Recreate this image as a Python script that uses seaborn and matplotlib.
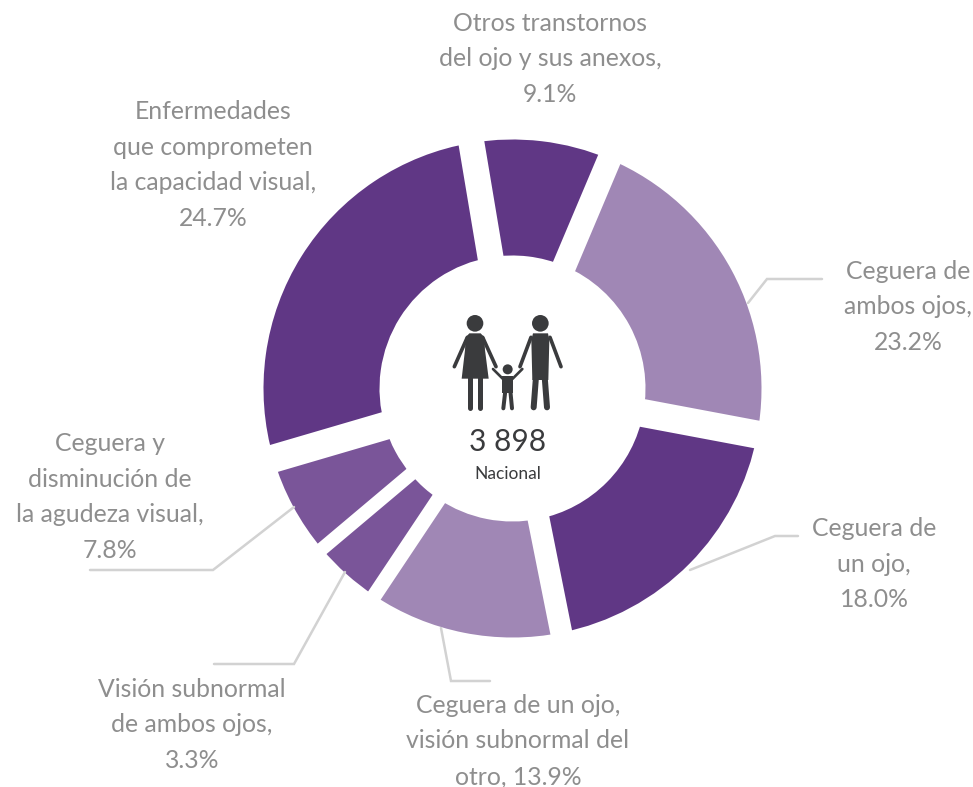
import numpy as np
import matplotlib
matplotlib.use("Agg")
import matplotlib.pyplot as plt
import seaborn as sns
from matplotlib.patches import Circle, Polygon

W, H = 973, 787

# Data: printed labels and the shares actually drawn
categories = [
    "Otros transtornos\ndel ojo y sus anexos,\n9.1%",
    "Ceguera de\nambos ojos,\n23.2%",
    "Ceguera de\nun ojo,\n18.0%",
    "Ceguera de un ojo,\nvisión subnormal del\notro, 13.9%",
    "Visión subnormal\nde ambos ojos,\n3.3%",
    "Ceguera y\ndisminución de\nla agudeza visual,\n7.8%",
    "Enfermedades\nque comprometen\nla capacidad visual,\n24.7%",
]
drawn_shares = [9.0, 21.6, 18.9, 12.5, 4.5, 6.6, 26.9]
total_label = "3 898"
total_caption = "Nacional"

DARK, LIGHT, MID = "#603785", "#A087B5", "#7A5599"
palette = sns.color_palette([DARK, LIGHT, DARK, LIGHT, MID, MID, DARK])

sns.set_theme(style="white")
plt.rcParams["font.family"] = ["Lato", "DejaVu Sans"]

fig = plt.figure(figsize=(W / 100, H / 100), dpi=100, facecolor="white")
ax = fig.add_axes([0, 0, 1, 1])


def Y(y):
    return H - y


CX, CY = 512.5, Y(388.5)
R_OUT, R_IN = 249, 133
wedges, _ = ax.pie(
    drawn_shares,
    colors=palette,
    center=(CX, CY),
    radius=R_OUT,
    startangle=90 + 9.5,
    counterclock=False,
    frame=True,
    wedgeprops=dict(width=R_OUT - R_IN, edgecolor="none", linewidth=0),
)
ax.set_xlim(0, W)
ax.set_ylim(0, H)
ax.set_aspect("equal")
ax.axis("off")

# white separators of varying width, after each slice
gaps_px = [24, 28, 22, 15, 13.6, 28, 26]
for w, g in zip(wedges, gaps_px):
    a = np.deg2rad(w.theta1)
    ax.plot([CX + (R_IN - 8) * np.cos(a), CX + (R_OUT + 8) * np.cos(a)],
            [CY + (R_IN - 8) * np.sin(a), CY + (R_OUT + 8) * np.sin(a)],
            color="white", lw=g * 0.72, solid_capstyle="butt", zorder=2)

# leader lines
leaders = [
    [(748, 303), (767, 279), (822, 279)],
    [(690, 570), (775, 536), (798, 536)],
    [(441, 628), (451, 681), (490, 681)],
    [(345, 572), (294, 664), (214, 664)],
    [(294, 507), (213, 570), (90, 570)],
]
for pts in leaders:
    ax.plot([p[0] for p in pts], [Y(p[1]) for p in pts], color="#D2D2D2", lw=1.8,
            solid_joinstyle="miter", zorder=3)

# labels
label_pos = [(550, 59), (908, 307), (874, 564), (518, 741), (192, 725), (110, 497), (213, 165)]
TEXT = "#8E8E8E"
for lab, (x, y) in zip(categories, label_pos):
    ax.text(x, Y(y), lab, ha="center", va="center", fontsize=17.8, color=TEXT,
            linespacing=1.67, zorder=4)

# centre
ICON = "#3A3B3D"
ax.text(508, Y(442), total_label, ha="center", va="center", fontsize=21.5, color=ICON, zorder=4)
ax.text(507.5, Y(474), total_caption, ha="center", va="center", fontsize=12.5, color=ICON, zorder=4)


def Z(x, y):
    return 430 + x / 3, Y(300 + y / 3)


def limb(a, b, w):
    p, q = Z(*a), Z(*b)
    ax.plot([p[0], q[0]], [p[1], q[1]], color=ICON, lw=w / 3 * 0.72,
            solid_capstyle="round", zorder=4)


def body(pts):
    ax.add_patch(Polygon([Z(*p) for p in pts], closed=True, fc=ICON, ec="none", zorder=4))


def head(x, y, r):
    ax.add_patch(Circle(Z(x, y), r / 3, fc=ICON, ec="none", zorder=4))


# woman
head(135, 70, 25)
body([(118, 100), (152, 100), (163, 112), (165, 150), (176, 236), (95, 236), (105, 150), (107, 112)])
limb((112, 112), (73, 200), 11)
limb((158, 112), (198, 200), 11)
limb((121, 232), (121, 325), 15)
limb((149, 232), (149, 325), 15)
# man
head(331, 70, 25)
body([(309, 100), (354, 100), (358, 120), (355, 240), (307, 240), (304, 120)])
limb((303, 112), (270, 200), 11)
limb((360, 112), (393, 200), 11)
limb((318, 230), (311, 322), 18)
limb((344, 230), (351, 322), 18)
# child
head(233, 208, 15)
body([(217, 228), (249, 228), (249, 280), (217, 280)])
limb((219, 237), (189, 207), 8)
limb((247, 237), (277, 207), 8)
limb((226, 272), (220, 325), 12)
limb((241, 272), (246, 325), 12)

fig.savefig("out.png", dpi=100, facecolor="white")
